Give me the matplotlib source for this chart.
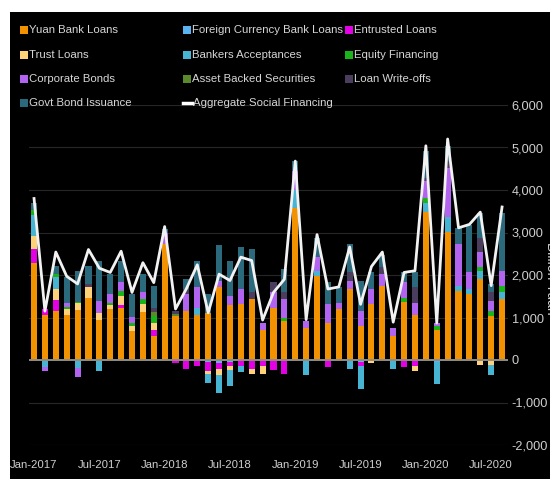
"""China aggregate social financing by component, monthly stacked bars."""

import matplotlib

matplotlib.use("Agg")
import matplotlib.pyplot as plt
import numpy as np
from matplotlib.lines import Line2D
from matplotlib.patches import Rectangle

plt.rcParams["font.family"] = ["Liberation Sans Narrow", "Liberation Sans", "DejaVu Sans"]

# billion yuan, Jan-2017 .. Aug-2020
yuan = [2290, 1050, 1150, 1070, 1175, 1470, 950, 1190, 1230, 675, 1120, 565,
        2720, 1030, 1150, 1070, 1110, 1710, 1290, 1310, 1430, 715, 1230, 910,
        3570, 750, 1985, 870, 1190, 1680, 790, 1310, 1750, 560, 1370, 1070,
        3490, 710, 3020, 1630, 1550, 1905, 1030, 1430]
fx_loans = [0, 0, 0, 0, 0, 0, 0, 0, 0, 0, 0, 0,
            0, 0, 0, 0, -50, -60, -50, 0, 0, 0, 0, 0,
            0, 0, 0, 0, 0, 0, -40, 0, 0, 0, 0, 0,
            0, -40, 0, 0, 0, 0, 0, 0]
entrusted = [330, 140, 260, 0, 0, 0, 0, 0, 60, 0, 0, 140,
             0, -60, -220, -140, -200, -160, -80, -130, -200, -150, -240, -320,
             -30, 0, 0, -170, 0, 0, -90, 0, 0, 0, -160, -130,
             0, 0, 0, 0, 0, 0, 0, 0]
trust = [300, 0, 270, 120, 155, 240, 160, 100, 220, 120, 190, 160,
         0, 0, 0, 0, -80, -130, -100, 0, -120, -170, 0, 0,
         0, 0, 0, 0, 0, 0, 0, -60, 0, 0, 0, -120,
         0, 0, 0, 0, 0, -120, -120, 0]
acceptances = [490, -170, 270, 0, -190, 0, -250, 0, 0, 0, 0, 0,
               0, 0, 0, 150, -200, -420, -380, -150, 0, 0, 0, 0,
               440, -360, 115, 0, 0, -200, -550, 0, 0, -200, 0, 0,
               200, -520, 350, 120, 120, 200, -240, 160]
equity = [120, 0, 70, 60, 40, 0, 0, 50, 120, 80, 120, 160,
          0, 0, 0, 0, 0, 0, 0, 0, 0, 0, 0, 80,
          0, 0, 0, 0, 0, 0, 0, 0, 0, 0, 100, 0,
          120, 80, 0, 0, 0, 80, 120, 160]
corp_bonds = [0, -90, 0, 80, -210, 0, 280, 210, 200, 145, 160, 0,
              260, 0, 400, 490, 0, 160, 220, 360, 0, 155, 360, 440,
              440, 160, 320, 440, 160, 190, 360, 360, 270, 190, 360, 280,
              400, 80, 1150, 990, 390, 360, 240, 350]
abs_sec = [0, 0, 0, 0, 0, 0, 0, 0, 0, 0, 0, 100,
           0, 60, 0, 0, 0, 0, 0, 0, 0, 0, 0, 0,
           0, 0, 0, 0, 0, 0, 0, 0, 0, 0, 0, 0,
           0, 0, 0, 0, 0, 0, 0, 0]
write_offs = [0, 0, 0, 0, 0, 80, 0, 0, 0, 0, 0, 100,
              0, 60, 120, 0, 0, 0, 0, 0, 160, 0, 240, 160,
              0, 0, 0, 0, 0, 200, 0, 0, 160, 0, 0, 360,
              80, 0, 160, 0, 0, 320, 200, 0]
govt_bonds = [160, 0, 200, 620, 730, 430, 950, 470, 510, 530, 430, 505,
              100, 0, 230, 630, 440, 830, 830, 990, 1030, 0, 0, 550,
              230, 0, 440, 520, 360, 670, 720, 390, 300, 0, 230, 350,
              630, 0, 360, 360, 1120, 590, 200, 1350]
aggregate = [3800, 1150, 2540, 1970, 1790, 2600, 2160, 2060, 2560, 1590, 2290, 1820,
             3140, 1200, 1680, 2240, 1110, 2020, 1870, 2420, 2340, 940, 1590, 1900,
             4680, 950, 2950, 1670, 1720, 2660, 1310, 2200, 2540, 890, 2060, 2100,
             5040, 870, 5200, 3110, 3190, 3480, 1750, 3600]

tick_labels = ["Jan-2017", "Jul-2017", "Jan-2018", "Jul-2018",
               "Jan-2019", "Jul-2019", "Jan-2020", "Jul-2020"]

series = [
    ("Yuan Bank Loans", yuan, "#F39200"),
    ("Foreign Currency Bank Loans", fx_loans, "#5AB2F0"),
    ("Entrusted Loans", entrusted, "#E400E4"),
    ("Trust Loans", trust, "#FFD27A"),
    ("Bankers Acceptances", acceptances, "#46B4D2"),
    ("Equity Financing", equity, "#19B419"),
    ("Corporate Bonds", corp_bonds, "#B264F0"),
    ("Asset Backed Securities", abs_sec, "#5B8A2D"),
    ("Loan Write-offs", write_offs, "#4B3D5E"),
    ("Govt Bond Issuance", govt_bonds, "#2B6A7C"),
]

W, H = 550, 479
fig = plt.figure(figsize=(W / 100, H / 100), dpi=100)
fig.patch.set_facecolor("white")
fig.add_artist(Rectangle((10 / W, 0), 1 - 10 / W, 1 - 12 / H, transform=fig.transFigure,
                         facecolor="black", edgecolor="none", zorder=0))

ax = fig.add_axes([28.6 / W, (H - 445) / H, (507.5 - 28.6) / W, 340 / H])
ax.set_facecolor("black")

x = np.arange(len(yuan))
pos_bottom = np.zeros(len(x))
neg_bottom = np.zeros(len(x))
for name, values, color in series:
    v = np.array(values, dtype=float)
    pos = np.where(v > 0, v, 0)
    neg = np.where(v < 0, v, 0)
    ax.bar(x, pos, 0.56, bottom=pos_bottom, color=color, linewidth=0, zorder=3)
    ax.bar(x, neg, 0.56, bottom=neg_bottom, color=color, linewidth=0, zorder=3)
    pos_bottom += pos
    neg_bottom += neg

ax.plot(x, aggregate, color="#f2f2f2", lw=2, zorder=5)
ax.axhline(0, color="#8c8c8c", lw=1.4, zorder=4)

ax.set_xlim(-0.5, len(x) - 0.5)
ax.set_ylim(-2000, 6000)
ax.set_yticks(range(-2000, 6001, 1000))
ax.set_yticklabels([f"{v:,}" for v in range(-2000, 6001, 1000)])
ax.yaxis.tick_right()
ax.set_xticks(x[::6])
ax.set_xticklabels(tick_labels)
ax.tick_params(axis="both", length=0, colors="#cfcfcf")
ax.tick_params(axis="x", labelsize=8.2, pad=11)
ax.tick_params(axis="y", labelsize=9.2, pad=3)
ax.grid(axis="y", color="#262626", lw=0.8, zorder=1)
for spine in ax.spines.values():
    spine.set_visible(False)

fig.text(551 / W, 1 - 278 / H, "Billion Yuan", rotation=270, color="#cfcfcf",
         fontsize=10, ha="center", va="center")

# legend drawn by hand: 3 columns x 4 rows
col_x = [20, 183, 345]
row_y = [30, 55, 79, 103]
layout = [
    (0, 0, 0), (1, 0, 1), (2, 0, 2),
    (3, 1, 0), (4, 1, 1), (5, 1, 2),
    (6, 2, 0), (7, 2, 1), (8, 2, 2),
    (9, 3, 0),
]
for idx, row, col in layout:
    name, _, color = series[idx]
    px, py = col_x[col], row_y[row]
    fig.add_artist(Rectangle((px / W, 1 - (py + 4) / H), 8 / W, 8 / H,
                             transform=fig.transFigure, facecolor=color,
                             edgecolor="none", zorder=6))
    fig.text((px + 9) / W, 1 - py / H, name, color="#d6d6d6", fontsize=8.2,
             ha="left", va="center", zorder=6)
px, py = col_x[1], row_y[3]
fig.add_artist(Line2D([px / W, (px + 9) / W], [1 - py / H, 1 - py / H],
                      transform=fig.transFigure, color="white", lw=2.5, zorder=6))
fig.text((px + 10) / W, 1 - py / H, "Aggregate Social Financing", color="#d6d6d6",
         fontsize=8.2, ha="left", va="center", zorder=6)

fig.savefig("out.png", dpi=100, facecolor=fig.get_facecolor())
